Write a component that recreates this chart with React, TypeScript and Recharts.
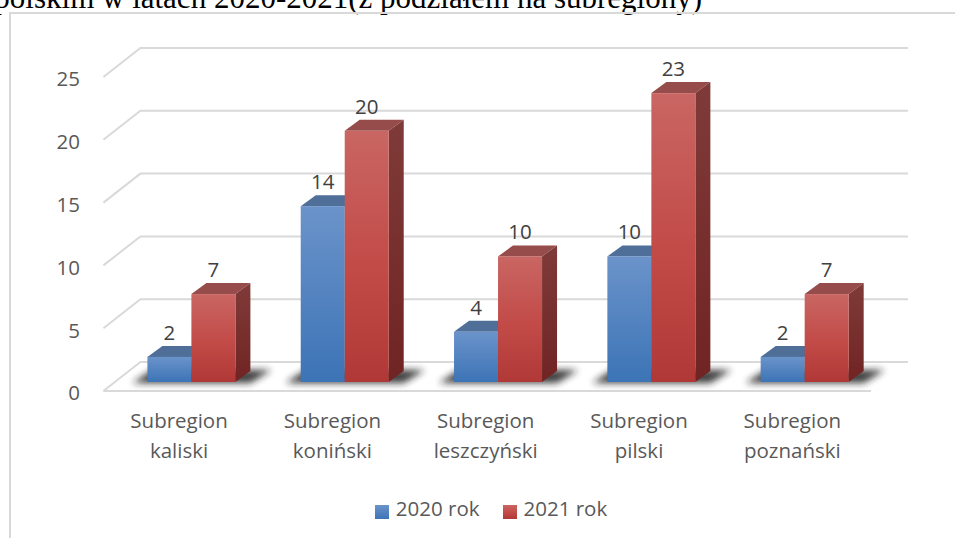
import { Bar, BarChart, CartesianGrid, LabelList, Legend, XAxis, YAxis } from 'recharts';

const categories = [
  'Subregion kaliski',
  'Subregion koniński',
  'Subregion leszczyński',
  'Subregion pilski',
  'Subregion poznański',
];
const values2020 = [2, 14, 4, 10, 2];
const values2021 = [7, 20, 10, 23, 7];
const yTicks = [0, 5, 10, 15, 20, 25];

const data = categories.map((name, i) => ({
  name,
  y2020: values2020[i],
  y2021: values2021[i],
}));

const FONT = '"Open Sans", sans-serif';
const FONT_SIZE = 20.5;
const DEPTH_X = 15;
const DEPTH_Y = 11;

function Bar3D(props: any) {
  const { x, y, width, height, front, top, side, withShadow } = props;
  const r = x + width;
  const b = y + height;
  return (
    <g>
      {withShadow && (
        <polygon
          points={`${x - 15},${b + 1} ${x + 2 * width + 15},${b + 1} ${x + 2 * width + 36},${b - 12} ${x + 5},${b - 12}`}
          fill="#1c1c1c"
          opacity={0.85}
          filter="url(#floorShadow)"
        />
      )}
      <polygon
        points={`${x},${y} ${x + DEPTH_X},${y - DEPTH_Y} ${r + DEPTH_X},${y - DEPTH_Y} ${r},${y}`}
        fill={top}
      />
      <polygon
        points={`${r},${y} ${r + DEPTH_X},${y - DEPTH_Y} ${r + DEPTH_X},${b - DEPTH_Y} ${r},${b}`}
        fill={side}
      />
      <rect x={x} y={y} width={width} height={height} fill={front} />
    </g>
  );
}

function GridLine3D(props: any) {
  const { x1, x2, y1 } = props;
  return (
    <polyline
      points={`${x1 - 11},${y1 + 9} ${x1 + 26},${y1 - 20} ${x2 + 27},${y1 - 20}`}
      fill="none"
      stroke="#d9d9d9"
      strokeWidth={2}
    />
  );
}

function FloorAndGrid(props: any) {
  const { x1, x2, y1 } = props;
  return (
    <g>
      <GridLine3D {...props} />
      {/* only the zero line gets the front edge of the floor */}
      {y1 > 300 && y1 > props.offset.top + props.offset.height - 1 && (
        <line x1={x1 - 11} x2={x2 - 10} y1={y1 + 9} y2={y1 + 9} stroke="#d9d9d9" strokeWidth={2} />
      )}
    </g>
  );
}

function YTick(props: any) {
  const { y, payload } = props;
  return (
    <text x={80} y={y + 11} dy="0.36em" textAnchor="end" fontSize={FONT_SIZE} fontFamily={FONT} fill="#595959">
      {payload.value}
    </text>
  );
}

function XTick(props: any) {
  const { x, y, payload } = props;
  const [first, second] = payload.value.split(' ');
  return (
    <text x={x - 12} y={y} textAnchor="middle" fontSize={FONT_SIZE} fontFamily={FONT} fill="#595959">
      <tspan x={x - 12} y={428}>{first}</tspan>
      <tspan x={x - 12} y={458}>{second}</tspan>
    </text>
  );
}

export default function App() {
  return (
    <div style={{ position: 'absolute', left: 0, top: 0, width: 955, height: 538, overflow: 'hidden', background: '#fff' }}>
      {/* the caption above the chart is cropped by the picture's top and left edges */}
      <div
        style={{
          position: 'absolute',
          right: 253,
          top: -17,
          whiteSpace: 'nowrap',
          fontFamily: '"Liberation Serif", serif',
          fontSize: 31,
          lineHeight: '30px',
          color: '#000',
        }}
      >
        wielkopolskim w latach 2020-2021(z podziałem na subregiony)
      </div>
      <div
        style={{
          position: 'absolute',
          left: 9,
          top: 12,
          width: 960,
          height: 540,
          borderLeft: '2px solid #d9d9d9',
          borderTop: '2px solid #d9d9d9',
        }}
      />
      <div style={{ position: 'absolute', left: 0, top: 0 }}>
        <BarChart
          width={955}
          height={538}
          data={data}
          barSize={44}
          barGap={0}
          margin={{ top: 68, right: 74, bottom: 18, left: 70 }}
        >
          <defs>
            <linearGradient id="blueFront" x1="0" y1="0" x2="0" y2="1">
              <stop offset="0%" stopColor="#6b93ca" />
              <stop offset="100%" stopColor="#3c74b6" />
            </linearGradient>
            <linearGradient id="redFront" x1="0" y1="0" x2="0" y2="1">
              <stop offset="0%" stopColor="#c96663" />
              <stop offset="55%" stopColor="#c24a47" />
              <stop offset="100%" stopColor="#b03836" />
            </linearGradient>
            <linearGradient id="redSide" x1="0" y1="0" x2="0" y2="1">
              <stop offset="0%" stopColor="#7f3b39" />
              <stop offset="100%" stopColor="#702423" />
            </linearGradient>
            <filter id="floorShadow" x="-20%" y="-100%" width="140%" height="300%">
              <feGaussianBlur stdDeviation="3.5" />
            </filter>
          </defs>
          <CartesianGrid vertical={false} horizontal={(p: any) => <FloorAndGrid key={p.key} {...p} />} />
          <XAxis
            dataKey="name"
            axisLine={false}
            tickLine={false}
            height={112}
            interval={0}
            tick={<XTick />}
          />
          <YAxis
            domain={[0, 25]}
            ticks={yTicks}
            width={44.4}
            axisLine={false}
            tickLine={false}
            tick={<YTick />}
          />
          <Legend
            height={26}
            iconType="square"
            iconSize={14}
            wrapperStyle={{ left: 97 }}
            formatter={(value: string) => (
              <span style={{ color: '#595959', fontFamily: FONT, fontSize: FONT_SIZE, marginLeft: 3, marginRight: 13 }}>{value}</span>
            )}
          />
          <Bar
            dataKey="y2020"
            name="2020 rok"
            fill="url(#blueFront)"
            isAnimationActive={false}
            shape={(p: any) => <Bar3D {...p} front="url(#blueFront)" top="#4f6f99" side="#3c5a80" withShadow />}
          >
            <LabelList dataKey="y2020" position="top" offset={17} fontSize={FONT_SIZE} fontFamily={FONT} fill="#404040" />
          </Bar>
          <Bar
            dataKey="y2021"
            name="2021 rok"
            fill="url(#redFront)"
            isAnimationActive={false}
            shape={(p: any) => <Bar3D {...p} front="url(#redFront)" top="#964c4a" side="url(#redSide)" />}
          >
            <LabelList dataKey="y2021" position="top" offset={17} fontSize={FONT_SIZE} fontFamily={FONT} fill="#404040" />
          </Bar>
        </BarChart>
      </div>
    </div>
  );
}
